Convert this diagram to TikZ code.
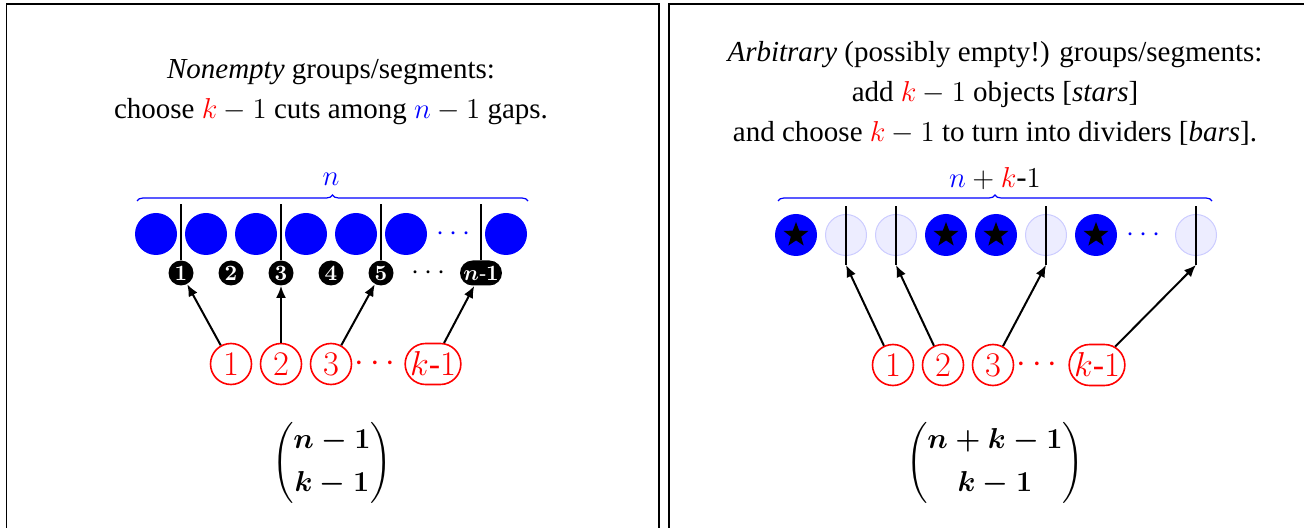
\documentclass[tikz,border=0pt]{standalone}
\usepackage[no-math]{fontspec}
\setmainfont{Liberation Serif}
\usepackage{amsmath}
\usepackage{amssymb}
\usepackage{xcolor}
\usetikzlibrary{
    arrows.meta,
    shapes.geometric,
    shapes.misc,
    positioning,
    decorations.pathreplacing
}
\tikzstyle{panel} = [
    draw=black,
    line width=0.6pt
]
\tikzstyle{ball} = [
    circle,
    fill=blue,
    minimum size=21pt,
    inner sep=0pt
]
\tikzstyle{ghost} = [
    circle,
    fill=blue!7,
    draw=blue!20,
    line width=0.5pt,
    minimum size=20.5pt,
    inner sep=0pt
]
\tikzstyle{starmark} = [
    star,
    star points=5,
    star point ratio=2.4,
    fill=black,
    minimum size=13pt,
    inner sep=0pt
]
\tikzstyle{gaplabel} = [
    rounded rectangle,
    fill=black,
    text=white,
    minimum size=12.5pt,
    inner sep=0.6pt,
    font=\fontsize{10.5}{10.5}\selectfont\boldmath
]
\tikzstyle{choice} = [
    rounded rectangle,
    draw=red,
    text=red,
    line width=0.8pt,
    minimum size=20.5pt,
    inner sep=0.5pt,
    font=\fontsize{17}{17}\selectfont
]
\tikzstyle{bar} = [
    line width=1.1pt
]
\tikzstyle{pick} = [
    -{Latex[length=6pt,width=5pt]},
    line width=1pt
]
\tikzstyle{grouping} = [
    decorate,
    decoration={brace, amplitude=3pt},
    draw=blue,
    line width=0.6pt
]
\tikzstyle{caption} = [
    align=center,
    font=\fontsize{14.5}{20}\selectfont
]

\begin{document}
\begin{tikzpicture}[x=0.5pt, y=-0.5pt]
        \useasboundingbox (0,0) rectangle (1304,528);

        % Frames
        \draw[panel] (6.5,4) rectangle (659,560);
        \draw[panel] (669,4) rectangle (1340,560);

        % Left: heading
        \node[caption] (lhead) at (331,92) {\textit{Nonempty} groups/segments:\\
            choose $\textcolor{red}{k}-1$ cuts among $\textcolor{blue}{n}-1$ gaps.};

        % Left: objects
        \foreach \i in {0,...,5}
            \node[ball] (lb\i) at (156+50*\i,234) {};
        \node[text=blue, font=\fontsize{14.5}{14.5}\selectfont] (lbdots) at (456,234) {$\cdots$};
        \node[ball] (lblast) at (506,234) {};

        % Left: brace
        \coordinate (lbraceL) at (137,201);
        \coordinate (lbraceR) at (528,201);
        \draw[grouping] (lbraceL) -- (lbraceR);
        \node[text=blue, font=\fontsize{15.5}{15.5}\selectfont] (lbracelabel) at (331,179) {$n$};

        % Left: gaps
        \foreach \j in {1,...,5}
            \node[gaplabel] (g\j) at (131+50*\j,273) {$\mathbf{\j}$};
        \node[font=\fontsize{14.5}{14.5}\selectfont] (gdots) at (431,273) {$\cdots$};
        \node[gaplabel] (glast) at (481,273) {$n\hbox{-}1$};

        % Left: cuts
        \foreach \g in {g1,g3,g5,glast}
            \draw[bar] (\g.north) -- ++(0,-56);

        % Left: choices
        \node[choice] (lc1) at (231,364) {$1$};
        \node[choice] (lc2) at (281,364) {$2$};
        \node[choice] (lc3) at (331,364) {$3$};
        \node[text=red, font=\fontsize{17}{17}\selectfont] (lcdots) at (378,364) {$\cdots$};
        \node[choice] (lclast) at (433,364) {$k\hbox{-}1$};
        \draw[pick] (lc1) -- (g1);
        \draw[pick] (lc2) -- (g3);
        \draw[pick] (lc3) -- (g5);
        \draw[pick] (lclast) -- (glast);

        % Left: count
        \node[font=\fontsize{13.5}{16}\selectfont\boldmath] (lcount) at (332,463) {$\dbinom{n-1}{k-1}$};

        % Right: heading
        \node[caption] (rhead) at (995,93) {\textit{Arbitrary} (possibly empty!) groups/segments:\\
            add $\textcolor{red}{k}-1$ objects [\textit{stars}]\\
            and choose $\textcolor{red}{k}-1$ to turn into dividers [\textit{bars}].};

        % Right: stars and bars
        \foreach \i/\x in {1/796,4/946,5/996,7/1096} {
            \node[ball] (rb\i) at (\x,235) {};
            \node[starmark] at (rb\i) {};
        }
        \foreach \i/\x in {2/846,3/896,6/1046,9/1196} {
            \node[ghost] (rb\i) at (\x,235) {};
            \coordinate (bar\i) at (\x,265);
            \draw[bar] (bar\i) -- ++(0,-59);
        }
        \node[text=blue, font=\fontsize{14.5}{14.5}\selectfont] (rbdots) at (1146,235) {$\cdots$};

        % Right: brace
        \coordinate (rbraceL) at (778,201);
        \coordinate (rbraceR) at (1212,201);
        \draw[grouping] (rbraceL) -- (rbraceR);
        \node[font=\fontsize{15.5}{15.5}\selectfont] (rbracelabel) at (995,179)
            {$\textcolor{blue}{n}+\textcolor{red}{k}\hbox{-}1$};

        % Right: choices
        \node[choice] (rc1) at (893,365) {$1$};
        \node[choice] (rc2) at (943,365) {$2$};
        \node[choice] (rc3) at (993,365) {$3$};
        \node[text=red, font=\fontsize{17}{17}\selectfont] (rcdots) at (1040,365) {$\cdots$};
        \node[choice] (rclast) at (1097,365) {$k\hbox{-}1$};
        \draw[pick] (rc1) -- (bar2);
        \draw[pick] (rc2) -- (bar3);
        \draw[pick] (rc3) -- (bar6);
        \draw[pick] (rclast) -- (bar9);

        % Right: count
        \node[font=\fontsize{13.5}{16}\selectfont\boldmath] (rcount) at (995,463) {$\dbinom{n+k-1}{k-1}$};
    \end{tikzpicture}
\end{document}
